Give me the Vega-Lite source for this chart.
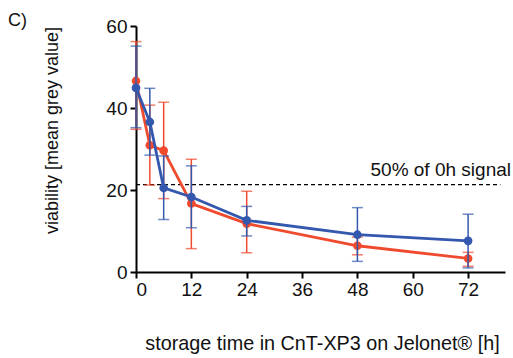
{
  "$schema": "https://vega.github.io/schema/vega-lite/v6.json",
  "autosize": {"type": "none"},
  "padding": {"left": 136, "top": 26, "right": 8, "bottom": 86},
  "width": 369,
  "height": 246,
  "background": "white",
  "title": {"text": "C)", "anchor": "start", "frame": "group", "dx": -128, "offset": 0, "dy": 13, "fontSize": 18, "font": "Liberation Sans", "fontWeight": "normal", "color": "#111"},
  "config": {
    "view": {"stroke": null},
    "font": "Liberation Sans",
    "axis": {"grid": false, "domainColor": "#000", "domainWidth": 2, "tickColor": "#000", "tickWidth": 2, "tickSize": 6, "labelFontSize": 19, "labelColor": "#111", "labelFont": "Liberation Sans", "titleFont": "Liberation Sans", "titleFontWeight": "normal", "titleColor": "#111"}
  },
  "datasets": {
    "main": [
      {"series": "red", "t": 0, "mean": 46.6, "lo": 34.8, "hi": 56.2},
      {"series": "red", "t": 3, "mean": 30.9, "lo": 21.2, "hi": 40.7},
      {"series": "red", "t": 6, "mean": 29.6, "lo": 17.9, "hi": 41.4},
      {"series": "red", "t": 12, "mean": 16.7, "lo": 5.7, "hi": 27.5},
      {"series": "red", "t": 24, "mean": 11.8, "lo": 4.7, "hi": 19.7},
      {"series": "red", "t": 48, "mean": 6.4, "lo": 4.2, "hi": 8.5},
      {"series": "red", "t": 72, "mean": 3.3, "lo": 1.4, "hi": 4.8},
      {"series": "blue", "t": 0, "mean": 44.9, "lo": 35.2, "hi": 55.1},
      {"series": "blue", "t": 3, "mean": 36.6, "lo": 28.5, "hi": 44.8},
      {"series": "blue", "t": 6, "mean": 20.5, "lo": 12.8, "hi": 28.3},
      {"series": "blue", "t": 12, "mean": 18.3, "lo": 10.8, "hi": 25.9},
      {"series": "blue", "t": 24, "mean": 12.6, "lo": 8.8, "hi": 16.0},
      {"series": "blue", "t": 48, "mean": 9.1, "lo": 2.6, "hi": 15.7},
      {"series": "blue", "t": 72, "mean": 7.6, "lo": 1.0, "hi": 14.1}
    ],
    "ref": [
      {"x1": 0, "x2": 79, "y": 21.3, "label": "50% of 0h signal", "lx": 80}
    ]
  },
  "layer": [
    {
      "data": {"name": "ref"},
      "mark": {"type": "rule", "color": "#000", "strokeDash": [4, 3], "strokeWidth": 1.2},
      "encoding": {
        "x": {"field": "x1", "type": "quantitative", "title": "storage time in CnT-XP3 on Jelonet® [h]", "scale": {"domain": [0, 80], "nice": false}, "axis": {"values": [0, 12, 24, 36, 48, 60, 72], "titleFontSize": 19.8, "titleX": 186, "titleY": 71, "titleBaseline": "middle", "titleAlign": "center", "labelPadding": 2}},
        "x2": {"field": "x2"},
        "y": {"field": "y", "type": "quantitative", "title": "viability [mean grey value]", "scale": {"domain": [0, 60], "nice": false}, "axis": {"values": [0, 20, 40, 60], "titleFontSize": 18, "titleX": -84, "titleY": 104, "titleAngle": -90, "titleAlign": "center", "titleBaseline": "middle", "labelPadding": 3}}
      }
    },
    {
      "data": {"name": "ref"},
      "mark": {"type": "text", "align": "right", "baseline": "alphabetic", "dx": 6, "dy": -9, "fontSize": 19, "font": "Liberation Sans", "color": "#111"},
      "encoding": {
        "x": {"field": "lx", "type": "quantitative", "title": "storage time in CnT-XP3 on Jelonet® [h]"},
        "y": {"field": "y", "type": "quantitative", "title": "viability [mean grey value]"},
        "text": {"field": "label"}
      }
    },
    {
      "data": {"name": "main"},
      "transform": [{"filter": "datum.series === 'red'"}],
      "layer": [
        {
          "mark": {"type": "errorbar", "orient": "vertical", "ticks": {"size": 11}, "thickness": 1.5, "color": "#f04a2e"},
          "encoding": {
            "x": {"field": "t", "type": "quantitative", "title": "storage time in CnT-XP3 on Jelonet® [h]"},
            "y": {"field": "lo", "type": "quantitative", "title": "viability [mean grey value]"},
            "y2": {"field": "hi"}
          }
        },
        {
          "mark": {"type": "line", "color": "#f04a2e", "strokeWidth": 2.8, "point": {"filled": true, "size": 75, "color": "#f04a2e"}},
          "encoding": {
            "x": {"field": "t", "type": "quantitative", "title": "storage time in CnT-XP3 on Jelonet® [h]"},
            "y": {"field": "mean", "type": "quantitative", "title": "viability [mean grey value]"}
          }
        }
      ]
    },
    {
      "data": {"name": "main"},
      "transform": [{"filter": "datum.series === 'blue'"}],
      "layer": [
        {
          "mark": {"type": "errorbar", "orient": "vertical", "ticks": {"size": 11}, "thickness": 1.5, "color": "#3358ad"},
          "encoding": {
            "x": {"field": "t", "type": "quantitative", "title": "storage time in CnT-XP3 on Jelonet® [h]"},
            "y": {"field": "lo", "type": "quantitative", "title": "viability [mean grey value]"},
            "y2": {"field": "hi"}
          }
        },
        {
          "mark": {"type": "line", "color": "#3358ad", "strokeWidth": 2.8, "point": {"filled": true, "size": 75, "color": "#3358ad"}},
          "encoding": {
            "x": {"field": "t", "type": "quantitative", "title": "storage time in CnT-XP3 on Jelonet® [h]"},
            "y": {"field": "mean", "type": "quantitative", "title": "viability [mean grey value]"}
          }
        }
      ]
    }
  ]
}
